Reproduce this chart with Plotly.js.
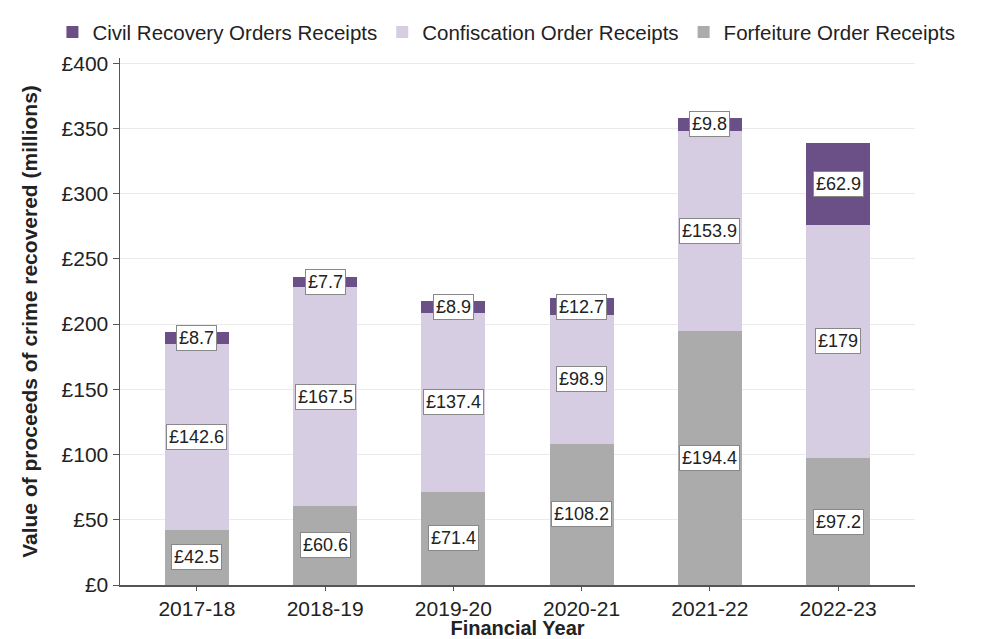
<!DOCTYPE html>
<html>
<head>
<meta charset="utf-8">
<script src="https://cdn.plot.ly/plotly-3.0.1.min.js"></script>
<style>html,body{margin:0;padding:0;background:#fff;}#chart{width:985px;height:639px;}</style>
</head>
<body>
<div id="chart"></div>
<script>
const years = ["2017-18", "2018-19", "2019-20", "2020-21", "2021-22", "2022-23"];
const forfeiture = [42.5, 60.6, 71.4, 108.2, 194.4, 97.2];
const confiscation = [142.6, 167.5, 137.4, 98.9, 153.9, 179];
const civil = [8.7, 7.7, 8.9, 12.7, 9.8, 62.9];
const yTicks = [0, 50, 100, 150, 200, 250, 300, 350, 400];
const yTickText = yTicks.map(v => "£" + v);

const FONT = "Liberation Sans, Arial, sans-serif";

const traces = [
  {name: "Forfeiture Order Receipts", x: years, y: forfeiture, type: "bar", marker: {color: "#ababab"}, hoverinfo: "none"},
  {name: "Confiscation Order Receipts", x: years, y: confiscation, type: "bar", marker: {color: "#d6cde3"}, hoverinfo: "none"},
  {name: "Civil Recovery Orders Receipts", x: years, y: civil, type: "bar", marker: {color: "#6a5087"}, hoverinfo: "none"}
];

const annotations = [];
const series = [forfeiture, confiscation, civil];
years.forEach((yr, i) => {
  let base = 0;
  series.forEach(s => {
    annotations.push({
      x: yr, y: base + s[i] / 2, xref: "x", yref: "y",
      text: "£" + s[i], showarrow: false,
      font: {family: FONT, size: 18, color: "#222"},
      bgcolor: "#ffffff", bordercolor: "#888888", borderwidth: 1, borderpad: 2
    });
    base += s[i];
  });
});

const layout = {
  width: 985, height: 639,
  margin: {l: 120, r: 70, t: 58, b: 54},
  barmode: "stack",
  bargap: 0.5,
  paper_bgcolor: "#fff", plot_bgcolor: "#fff",
  font: {family: FONT, color: "#222"},
  showlegend: true,
  legend: {
    orientation: "h", traceorder: "reversed",
    xref: "paper", yref: "paper",
    x: -0.085, xanchor: "left", y: 1.087, yanchor: "top",
    font: {size: 20.5, color: "#222"}, itemwidth: 30
  },
  xaxis: {
    type: "category", range: [-0.6, 5.6],
    showline: true, linecolor: "#555", linewidth: 1.5,
    ticks: "outside", ticklen: 4, tickcolor: "#555",
    tickfont: {size: 21, color: "#222"},
    title: {text: "<b>Financial Year</b>", font: {size: 20, color: "#222"}, standoff: 0},
    showgrid: false
  },
  yaxis: {
    range: [0, 404],
    tickvals: yTicks, ticktext: yTickText,
    showline: true, linecolor: "#555", linewidth: 1.5,
    ticks: "outside", ticklen: 6, tickcolor: "#555",
    tickfont: {size: 21, color: "#222"},
    showgrid: true, gridcolor: "#ebebeb", zeroline: false,
    title: {text: "<b>Value of proceeds of crime recovered (millions)</b>", font: {size: 21, color: "#222"}, standoff: 18}
  },
  annotations: annotations
};

Plotly.newPlot("chart", traces, layout, {displayModeBar: false, staticPlot: true});
</script>
</body>
</html>
